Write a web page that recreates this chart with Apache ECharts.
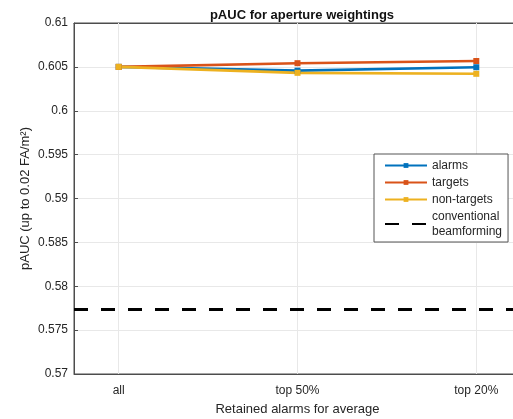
<!DOCTYPE html>
<html>
<head>
<meta charset="utf-8">
<script src="https://cdn.jsdelivr.net/npm/echarts@6/dist/echarts.min.js"></script>
<style>
  html, body { margin: 0; padding: 0; background: #fff; overflow: hidden; }
  #chart { width: 513px; height: 419px; }
</style>
</head>
<body>
<div id="chart"></div>
<script>
// Category labels along the x axis (placed at positions 1, 2, 3)
const categories = ['all', 'top 50%', 'top 20%'];
const categoryPositions = [1, 2, 3];

// pAUC values per weighting scheme
const alarms = [0.6050, 0.60457, 0.60496];
const targets = [0.6050, 0.60542, 0.60567];
const nonTargets = [0.6050, 0.60432, 0.60421];

// Reference level for conventional beamforming
const conventional = 0.57736;

// Y axis ticks
const yMin = 0.57, yMax = 0.61, yStep = 0.005;

const FONT = '"Liberation Sans", Arial, Helvetica, sans-serif';
const TEXT = '#262626';
const AXIS = '#4d4d4d';
const GRIDC = '#e8e8e8';

const toPairs = vals => categoryPositions.map((x, i) => [x, vals[i]]);

const lineSeries = (name, vals, color) => ({
  name,
  type: 'line',
  z: 3,
  data: toPairs(vals),
  symbol: 'rect',
  symbolSize: 6,
  lineStyle: { color, width: 2.6 },
  itemStyle: { color },
  emphasis: { disabled: true },
  animation: false
});

const chart = echarts.init(document.getElementById('chart'), null, { renderer: 'canvas' });

chart.setOption({
  animation: false,
  textStyle: { fontFamily: FONT },
  title: {
    text: 'pAUC for aperture weightings',
    left: 297,
    textAlign: 'center',
    top: 4,
    textStyle: { fontFamily: FONT, fontSize: 13, fontWeight: 'bold', color: '#111' }
  },
  grid: {
    left: 74,
    width: 447,
    top: 23,
    bottom: 45,
    show: true,
    borderColor: AXIS,
    borderWidth: 1,
    containLabel: false,
    outerBoundsMode: 'none'
  },
  legend: {
    z: 20,
    orient: 'vertical',
    left: 374,
    top: 154,
    padding: [4, 6, 3, 10],
    itemWidth: 42,
    itemHeight: 6,
    itemGap: 2,
    backgroundColor: '#fff',
    borderColor: '#555',
    borderWidth: 1,
    textStyle: { fontFamily: FONT, fontSize: 12, color: TEXT, lineHeight: 15 },
    data: [
      'alarms', 'targets', 'non-targets',
      { name: 'conventional\nbeamforming', itemStyle: { opacity: 0 } }
    ]
  },
  xAxis: [{
    type: 'value',
    min: 0.75,
    max: 3.25,
    name: 'Retained alarms for average',
    nameLocation: 'middle',
    nameGap: 29,
    nameMoveOverlap: false,
    nameTextStyle: { fontFamily: FONT, fontSize: 13, color: TEXT },
    axisLine: { show: true, lineStyle: { color: AXIS, width: 1 } },
    axisTick: { show: true, inside: true, length: 4, customValues: categoryPositions, lineStyle: { color: AXIS } },
    axisLabel: {
      customValues: categoryPositions,
      formatter: v => categories[categoryPositions.indexOf(Math.round(v))] || '',
      fontFamily: FONT, fontSize: 12, color: TEXT, margin: 11
    },
    splitLine: { show: false }
  }, {
    type: 'value',
    position: 'top',
    min: 0.75,
    max: 3.25,
    axisLine: { show: true, lineStyle: { color: AXIS, width: 1 } },
    axisTick: { show: true, inside: true, length: 4, customValues: categoryPositions, lineStyle: { color: AXIS } },
    axisLabel: { show: false },
    splitLine: { show: false }
  }],
  yAxis: {
    type: 'value',
    min: yMin,
    max: yMax,
    interval: yStep,
    name: 'pAUC (up to 0.02 FA/m²)',
    nameLocation: 'middle',
    nameGap: 42,
    nameMoveOverlap: false,
    nameRotate: 90,
    nameTextStyle: { fontFamily: FONT, fontSize: 13, color: TEXT },
    axisLine: { show: true, lineStyle: { color: AXIS, width: 1 } },
    axisTick: { show: true, inside: true, length: 4, lineStyle: { color: AXIS } },
    axisLabel: {
      formatter: v => String(parseFloat(v.toFixed(3))),
      fontFamily: FONT, fontSize: 12, color: TEXT, margin: 6
    },
    splitLine: { show: true, lineStyle: { color: GRIDC, width: 1 } }
  },
  series: [
    {
      // vertical grid lines at the category positions
      type: 'line',
      z: 1,
      data: [],
      silent: true,
      markLine: {
        silent: true,
        z: 1,
        symbol: 'none',
        label: { show: false },
        lineStyle: { color: GRIDC, width: 1, type: 'solid' },
        data: categoryPositions.map(x => ({ xAxis: x }))
      }
    },
    {
      name: 'conventional\nbeamforming',
      type: 'line',
      z: 2,
      data: [],
      symbol: 'none',
      showSymbol: false,
      itemStyle: { color: '#000' },
      lineStyle: { color: '#000', width: 3, type: [14, 13] },
      markLine: {
        silent: true,
        symbol: 'none',
        precision: 6,
        label: { show: false },
        lineStyle: { color: '#000', width: 3, type: [14, 13] },
        data: [{ yAxis: conventional }]
      }
    },
    lineSeries('alarms', alarms, '#0072BD'),
    lineSeries('targets', targets, '#D95319'),
    lineSeries('non-targets', nonTargets, '#EDB120')
  ]
});
</script>
</body>
</html>
